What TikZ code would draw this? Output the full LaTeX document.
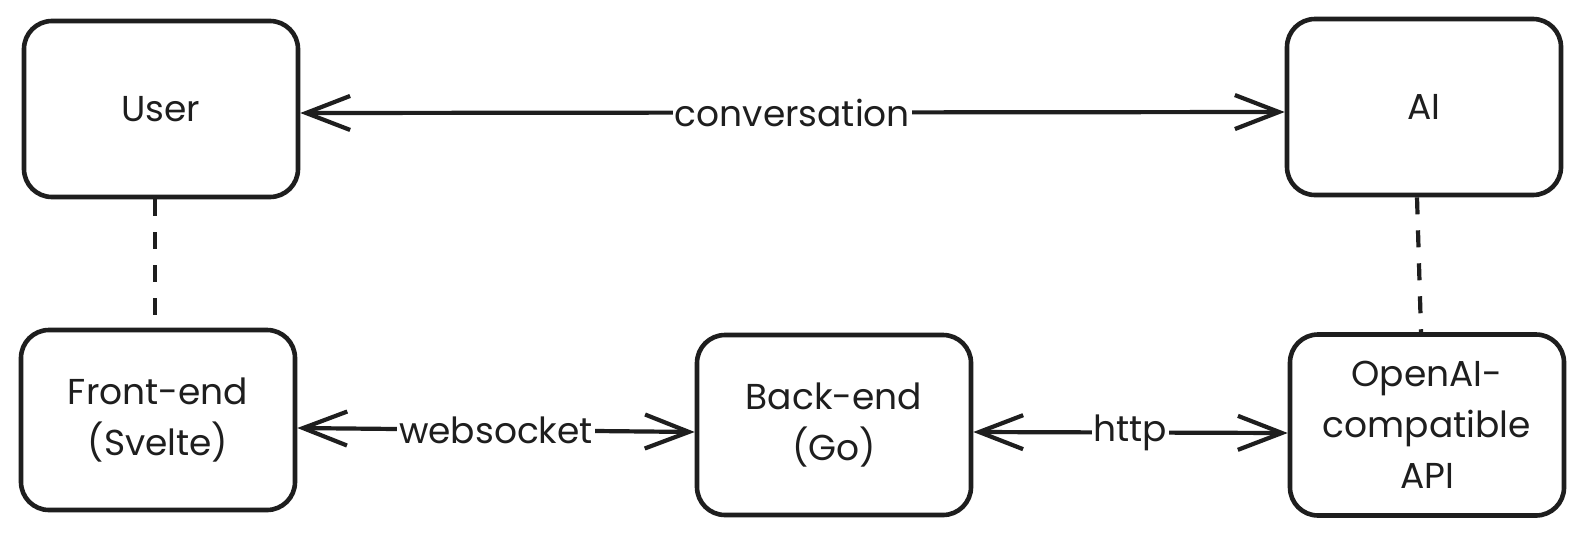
\documentclass[tikz,border=0pt]{standalone}
\usepackage{fontspec}
\setmainfont{Poppins}
\usetikzlibrary{arrows.meta}
\definecolor{ink}{HTML}{1E1E1E}
\begin{document}
\begin{tikzpicture}[x=1pt,y=-1pt,
  box/.style={draw=ink, line width=4.6pt, rounded corners=28pt,
    minimum width=274pt, minimum height=176pt, align=center,
    font=\fontsize{36}{51}\selectfont, text=ink, inner sep=0pt},
  link/.style={draw=ink, line width=4.2pt,
    {Straight Barb[length=44pt,width=34pt]}-{Straight Barb[length=44pt,width=34pt]}},
  lbl/.style={fill=white, text=ink, font=\fontsize{36}{40}\selectfont, inner sep=2pt},
  dashlink/.style={draw=ink, line width=4.2pt, dash pattern=on 17pt off 16pt}]
\useasboundingbox[fill=white] (0,0) rectangle (1586,536);

\node[box] (user)  at (161,109) {User};
\node[box] (ai)    at (1424,107) {AI};
\node[box, minimum height=180pt] (front) at (158,420) {Front-end\\(Svelte)};
\node[box, minimum height=180pt] (back)  at (834,425) {Back-end\\(Go)};
\node[box, minimum height=181pt] (api)   at (1427,425) {OpenAI-\\compatible\\API};

\draw[dashlink] ([xshift=-6pt]user.south) -- ([xshift=-3pt]front.north);
\draw[dashlink] ([xshift=-7pt]ai.south) -- ([xshift=-6pt]api.north);

\draw[link] ([yshift=-4pt]user.east) -- node[lbl] (conv) {conversation} ([yshift=-5pt]ai.west);
\draw[link] ([yshift=-8pt]front.east) -- node[lbl] (ws) {websocket} ([yshift=-7pt]back.west);
\draw[link] ([yshift=-7pt]back.east) -- node[lbl] (http) {http} ([yshift=-8pt]api.west);
\end{tikzpicture}
\end{document}
